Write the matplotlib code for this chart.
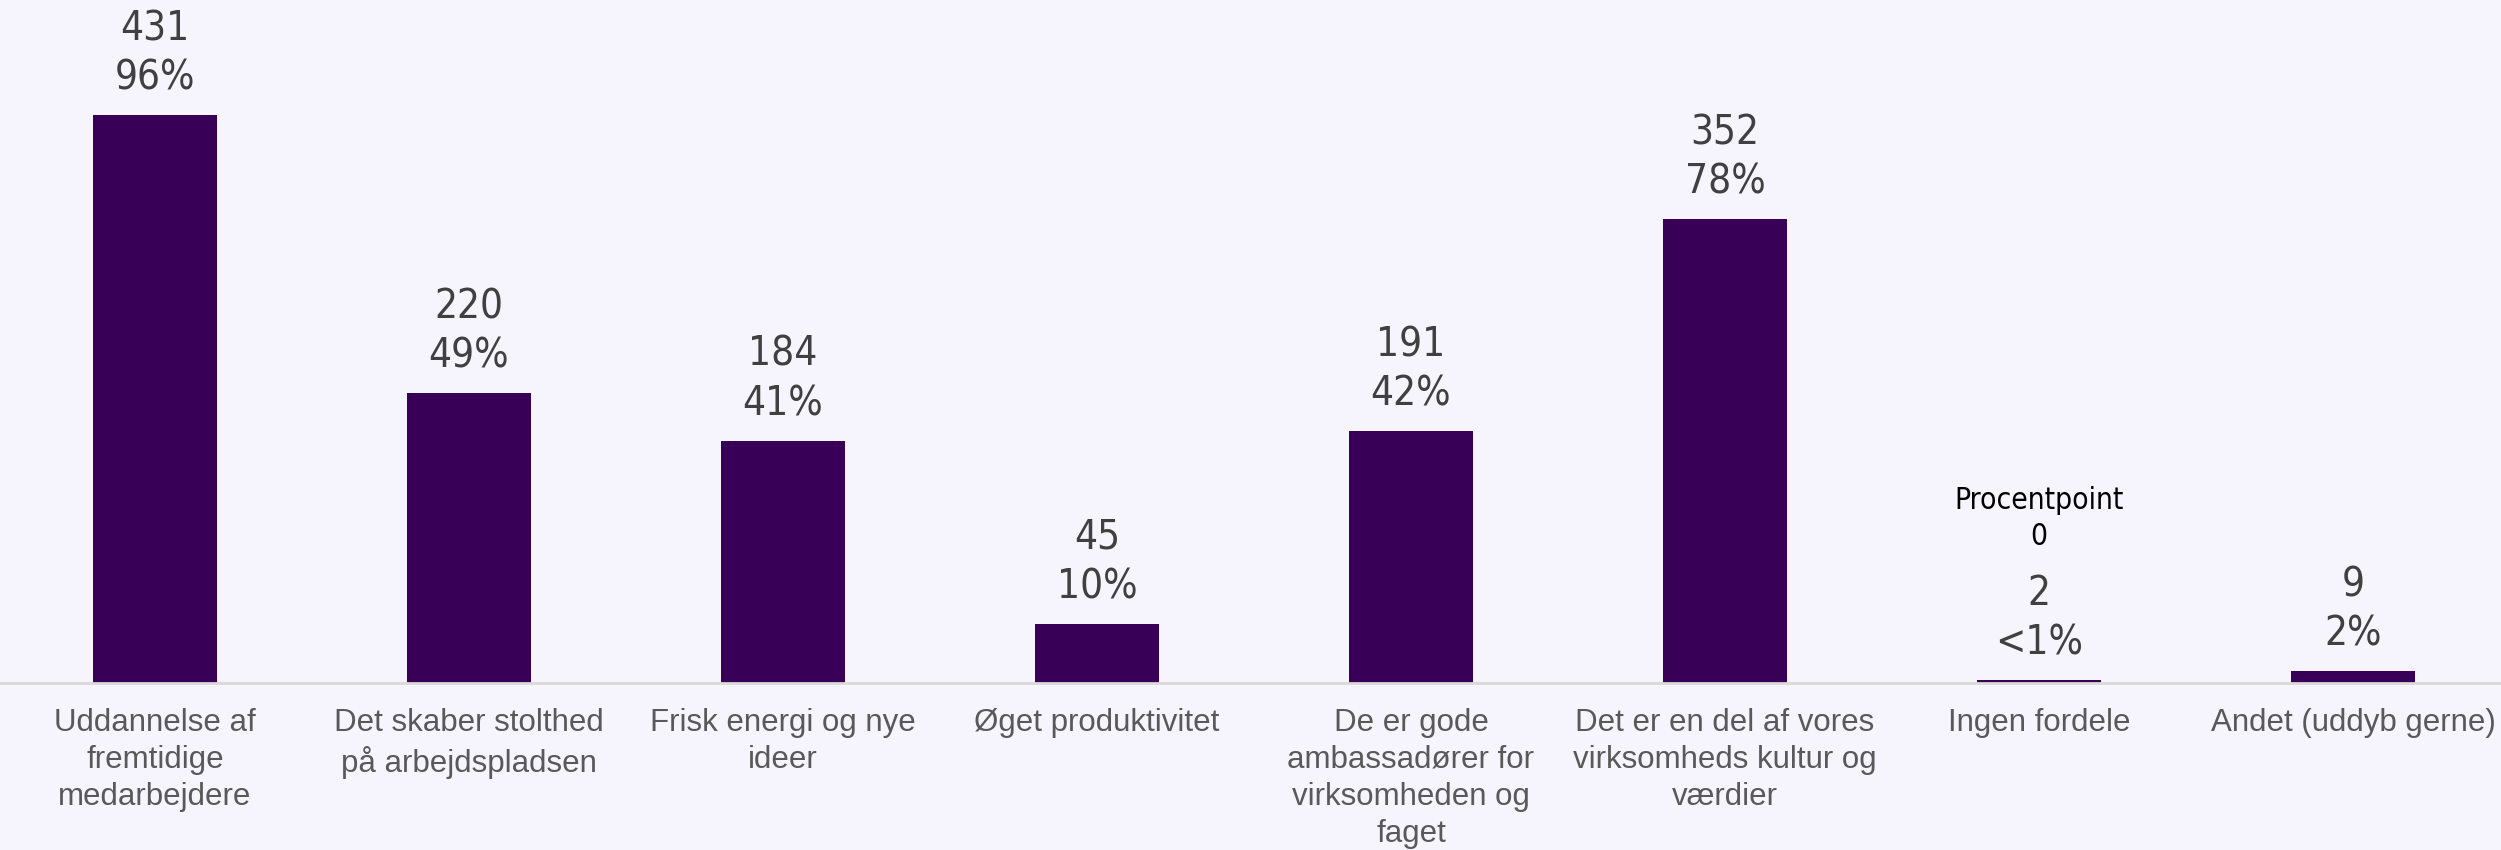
import numpy as np
import matplotlib
matplotlib.use('Agg')
import matplotlib.pyplot as plt

categories = ['Uddannelse af\nfremtidige\nmedarbejdere',
              'Det skaber stolthed\npå arbejdspladsen',
              'Frisk energi og nye\nideer',
              'Øget produktivitet',
              'De er gode\nambassadører for\nvirksomheden og\nfaget',
              'Det er en del af vores\nvirksomheds kultur og\nværdier',
              'Ingen fordele',
              'Andet (uddyb gerne)']
counts = [431, 220, 184, 45, 191, 352, 2, 9]
pct_labels = ['96%', '49%', '41%', '10%', '42%', '78%', '<1%', '2%']

bg = '#F6F4FD'
bar_color = '#380057'

fig = plt.figure(figsize=(25.01, 8.5), dpi=100, facecolor=bg)
ax = fig.add_axes([0, (850 - 683) / 850, 1, 683 / 850])
ax.set_facecolor(bg)

x = np.arange(len(categories))
ax.bar(x, counts, width=0.395, color=bar_color, zorder=2)

ax.set_xlim(-155 / 314, (2501 - 155) / 314)
ax.set_ylim(0, 683 / 1.317)

for s in ['top', 'right', 'left']:
    ax.spines[s].set_visible(False)
ax.spines['bottom'].set_color('#D9D9D9')
ax.spines['bottom'].set_linewidth(2)
ax.set_yticks([])
ax.set_xticks(x)
ax.set_xticklabels(categories, fontsize=22.5, color='#595959',
                   family='Liberation Sans', linespacing=1.3)
ax.tick_params(axis='x', length=0, pad=18)

for xi, c, p in zip(x, counts, pct_labels):
    ax.annotate(f'{c}\n{p}', (xi, c), xytext=(0, 12), textcoords='offset points',
                ha='center', va='bottom', fontsize=29, color='#404040',
                family='DejaVu Sans', fontstretch='condensed', linespacing=1.3)

# ekstra note over "Ingen fordele"
ax.annotate('Procentpoint\n0', (x[6], counts[6]), xytext=(0, 93), textcoords='offset points',
            ha='center', va='bottom', fontsize=21.5, color='black',
            family='DejaVu Sans', fontstretch='condensed', linespacing=1.3)

fig.savefig('out.png', dpi=100, facecolor=bg)
